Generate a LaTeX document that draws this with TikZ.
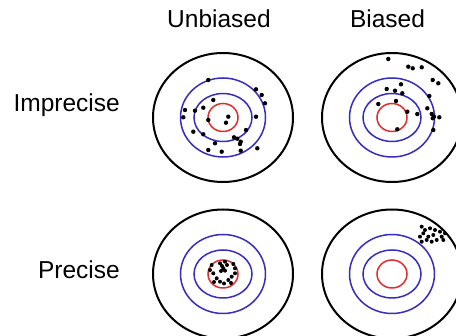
\documentclass[tikz,border=0pt]{standalone}
\usepackage{fontspec}
\setmainfont{Liberation Sans}
\definecolor{tblue}{RGB}{55,45,190}
\definecolor{tred}{RGB}{225,45,45}
\begin{document}
\begin{tikzpicture}[x=1pt,y=-1pt,
  lbl/.style={font=\fontsize{24.5}{29}\selectfont, inner sep=0pt},
  ring/.style={line width=2pt, black},
  bring/.style={line width=1.5pt, tblue},
  rring/.style={line width=1.5pt, tred},
  dot/.style={fill=black}]
\useasboundingbox (0,0) rectangle (456,336);
\fill[white] (0,0) rectangle (456,336);
% labels
\node[lbl, anchor=base] (unb) at (219,28) {Unbiased};
\node[lbl, anchor=base] (bia) at (387.5,28) {Biased};
\node[lbl, anchor=base east] (imp) at (120,112) {Imprecise};
\node[lbl, anchor=base east] (pre) at (120,279) {Precise};
% targets
\foreach \cx/\cy in {223/117.5, 392/117.5, 223/274, 392/274}{
  \draw[ring] (\cx,\cy) ellipse [x radius=70, y radius=64.5];
  \draw[bring] (\cx,\cy) ellipse [x radius=42.5, y radius=39.5];
  \draw[bring] (\cx,\cy) ellipse [x radius=29, y radius=24];
  \draw[rring] (\cx,\cy) ellipse [x radius=15, y radius=14];
}
% top-left dots
\foreach \x/\y in {208.3/80, 256/89.3, 261.7/95, 265/103.3, 185/110, 195/110.7, 203.3/107.7, 213.3/100, 183.3/117.3, 228.3/116.7, 208.3/120, 226/122.7, 256/116.7, 193.3/131.7, 203.3/134.3, 246/130, 234/137.3, 237.3/138.7, 240.7/141.7, 240/144, 215/143.3, 208.3/150, 221.7/151.7, 240.7/150.7, 257.3/148.3}
  \fill[dot] (\x,\y) circle (2.2);
% top-right dots
\foreach \x/\y in {388.3/59, 408.3/66.7, 412.7/68.3, 421.7/67.3, 432.7/80, 438.3/83.3, 401/84.3, 386.7/89, 395/90.7, 402.3/93.3, 429.3/96, 378.3/104, 396/101, 407.3/111.7, 417.3/114, 427.3/108.3, 431.7/114, 432.7/118.3, 434/116.7, 439.3/117.3, 433.3/130, 397.3/129.3}
  \fill[dot] (\x,\y) circle (2.2);
% bottom-left dots
\foreach \x/\y in {211.7/265, 220/263.3, 225/261.7, 233.3/264, 235/268.3, 223.3/268.3, 225/270.7, 213.3/273.3, 231.7/276.7, 216.7/278.3, 228.3/280, 220/281.7, 235/273.3, 210/270, 222/266, 224/283.5, 214/282, 231/283, 221/271, 227/265}
  \fill[dot] (\x,\y) circle (2);
% bottom-right dots
\foreach \x/\y in {421.7/226.7, 425/230, 430/228.3, 435/230, 423.3/233.3, 433.3/235, 440/231.7, 441.7/236.7, 426.7/240, 431.7/241.7, 421.7/241.7, 445/233.3, 436.7/240, 443.3/240, 428.3/236.7, 420/236.7}
  \fill[dot] (\x,\y) circle (2);
\end{tikzpicture}
\end{document}
